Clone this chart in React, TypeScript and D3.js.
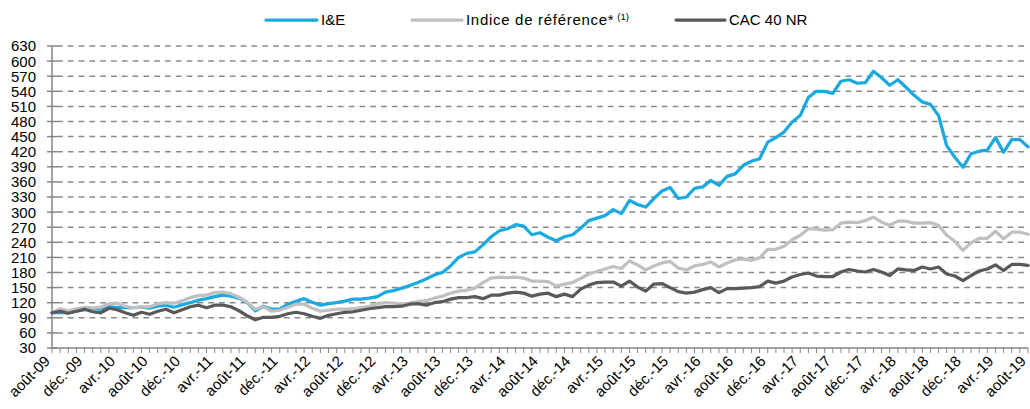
import React from "react";
import * as d3 from "d3";

const monthAbbr = ["janv.", "févr.", "mars", "avr.", "mai", "juin", "juil.", "août", "sept.", "oct.", "nov.", "déc."];
const startMonth = 7; // août
const startYear = 9; // 2009
const nPoints = 121;
const categories: string[] = Array.from({ length: nPoints }, (_, k) => {
  const m = (startMonth + k) % 12;
  const y = startYear + Math.floor((startMonth + k) / 12);
  return monthAbbr[m] + "-" + String(y).padStart(2, "0");
});
const tickEvery = 4;
const yTicks = [30, 60, 90, 120, 150, 180, 210, 240, 270, 300, 330, 360, 390, 420, 450, 480, 510, 540, 570, 600, 630];

const seriesNames = ["I&E", "Indice de référence*", "CAC 40 NR"];

const ieValues = [
  100, 101, 100, 103, 106, 108, 107, 112, 110, 110, 110, 111, 109, 113, 115, 111, 116, 120, 125, 128,
  132, 135, 133, 129, 120, 104, 113, 107, 107, 117, 123, 128, 121, 115, 118, 120, 123, 127, 127, 129,
  132, 141, 144, 149, 154, 160, 167, 175, 180, 193, 210, 218, 221, 235, 251, 263, 267, 275, 272, 255,
  259, 250, 243, 251, 255, 268, 283, 288, 293, 305, 297, 323, 315, 310, 327, 342, 349, 327, 330, 347,
  350, 363, 353, 371, 376, 393, 401, 406, 439, 448, 459, 479, 492, 528, 540, 540, 536, 560, 563, 556,
  557, 580, 567, 552, 563, 548, 532, 519, 514, 492, 432, 409, 389, 416, 421, 423, 448, 419, 444, 444,
  430,
];

const refValues = [
  100, 108, 104, 108, 111, 109, 111, 118, 119, 113, 110, 111, 112, 118, 120, 119, 124, 130, 134, 135,
  140, 141, 138, 131, 121, 107, 112, 103, 105, 111, 117, 117, 109, 103, 105, 107, 107, 108, 110, 113,
  118, 120, 119, 117, 119, 122, 124, 129, 133, 139, 143, 145, 149, 160, 169, 171, 170, 171, 169, 163,
  163, 162, 153, 157, 160, 168, 177, 182, 187, 192, 188, 203, 195, 185, 193, 199, 202, 189, 185, 193,
  196, 201, 191, 199, 205, 207, 204, 209, 226, 226, 232, 245, 254, 267, 266, 264, 265, 278, 280, 279,
  283, 290, 280, 274, 282, 282, 278, 278, 279, 274, 254, 242, 224, 239, 248, 248, 262, 247, 260, 260,
  256,
];

const cacValues = [
  100, 103, 99, 103, 107, 102, 100, 109, 106, 100, 95, 101, 97, 103, 107, 100, 106, 112, 115, 110,
  115, 115, 112, 104, 94, 86, 91, 91, 93, 98, 101, 98, 93, 89, 95, 98, 101, 102, 105, 108,
  110, 112, 112, 113, 117, 118, 115, 120, 122, 127, 130, 130, 132, 128, 135, 135, 139, 141, 139, 133,
  137, 139, 132, 137, 132, 147, 155, 160, 161, 161, 153, 163, 151, 143, 157, 158, 150, 142, 139, 141,
  146, 150, 140, 148, 148, 149, 150, 152, 163, 159, 163, 171, 176, 179, 173, 172, 172, 181, 186, 183,
  181, 186, 181, 174, 187, 185, 184, 191, 187, 191, 177, 173, 164, 174, 183, 187, 195, 184, 196, 196,
  194,
];

const colors = ["#1AA9E1", "#C0C0C0", "#595959"];
const FONT = "'Liberation Sans', Arial, sans-serif";

export default function App() {
  const W = 1030;
  const H = 409;
  const x = d3.scalePoint<string>().domain(categories).range([52, 1028]);
  const y = d3.scaleLinear().domain([30, 630]).range([348, 46]);
  const line = d3
    .line<number>()
    .x((_, i) => x(categories[i]) as number)
    .y((d) => y(d));
  const all = [ieValues, refValues, cacValues];

  const legend = [
    { x1: 266, x2: 317, tx: 321, ls: 0 },
    { x1: 412, x2: 462, tx: 466, ls: 0.7 },
    { x1: 676, x2: 725, tx: 729, ls: 0 },
  ];

  return (
    <svg width={W} height={H} style={{ position: "absolute", left: 0, top: 0, background: "#fff" }} fontFamily={FONT}>
      {/* gridlines */}
      {yTicks.slice(1).map((t) => (
        <line key={"g" + t} x1={57} x2={1028} y1={y(t)} y2={y(t)} stroke="#8A8A8A" strokeWidth={1.5} strokeDasharray="5.8,5" />
      ))}
      {/* y axis */}
      <line x1={52} x2={52} y1={y(630)} y2={y(30)} stroke="#868686" strokeWidth={1.5} />
      {yTicks.map((t) => (
        <line key={"yt" + t} x1={47} x2={57} y1={y(t)} y2={y(t)} stroke="#868686" strokeWidth={1.5} />
      ))}
      {yTicks.map((t) => (
        <text key={"yl" + t} x={36} y={y(t)} dy="0.36em" textAnchor="end" fontSize={15} fill="#000">
          {t}
        </text>
      ))}
      {/* x axis */}
      <line x1={52} x2={1028} y1={y(30)} y2={y(30)} stroke="#868686" strokeWidth={1.5} />
      {categories.map((c) => (
        <line key={"xt" + c} x1={x(c)} x2={x(c)} y1={y(30)} y2={y(30) + 5} stroke="#868686" strokeWidth={1} />
      ))}
      {categories.map((c, i) =>
        i % tickEvery === 0 ? (
          <text
            key={"xl" + c}
            transform={`translate(${(x(c) as number) - 1},${362}) rotate(-45)`}
            textAnchor="end"
            fontSize={15}
            fill="#000"
          >
            {c}
          </text>
        ) : null
      )}
      {/* series */}
      {all.map((vals, s) => (
        <path
          key={"s" + s}
          d={line(vals) as string}
          fill="none"
          stroke={colors[s]}
          strokeWidth={3.25}
          strokeLinejoin="round"
          strokeLinecap="round"
        />
      ))}
      {/* legend */}
      {legend.map((l, s) => (
        <g key={"lg" + s}>
          <line x1={l.x1} x2={l.x2} y1={20} y2={20} stroke={colors[s]} strokeWidth={3.25} strokeLinecap="round" />
          <text x={l.tx} y={20} dy="0.36em" fontSize={15} fill="#000" letterSpacing={l.ls}>
            {seriesNames[s]}
            {s === 1 ? (
              <tspan fontSize={9.5} dx={3} dy={-5} letterSpacing={0}>
                (1)
              </tspan>
            ) : null}
          </text>
        </g>
      ))}
    </svg>
  );
}
